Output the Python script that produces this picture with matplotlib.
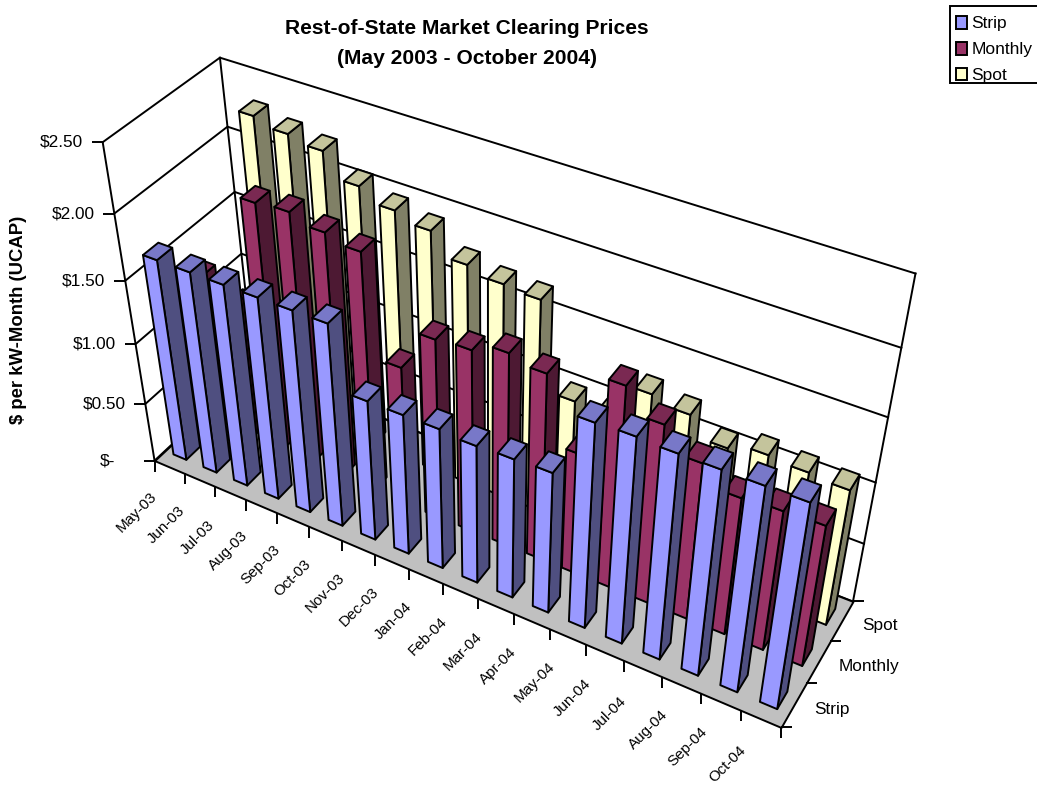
import matplotlib
matplotlib.use('Agg')
import matplotlib.pyplot as plt
from matplotlib.lines import Line2D
from matplotlib.patches import Patch, Rectangle
from matplotlib.transforms import IdentityTransform
from mpl_toolkits.mplot3d import proj3d
from mpl_toolkits.mplot3d.art3d import Poly3DCollection

plt.rcParams['font.family'] = ['Liberation Sans', 'DejaVu Sans']

months = ['May-03', 'Jun-03', 'Jul-03', 'Aug-03', 'Sep-03', 'Oct-03', 'Nov-03', 'Dec-03', 'Jan-04',
          'Feb-04', 'Mar-04', 'Apr-04', 'May-04', 'Jun-04', 'Jul-04', 'Aug-04', 'Sep-04', 'Oct-04']
series_names = ['Strip', 'Monthly', 'Spot']

strip = [1.65, 1.65, 1.65, 1.65, 1.65, 1.65, 1.16, 1.16, 1.16,
         1.14, 1.15, 1.16, 1.65, 1.66, 1.65, 1.65, 1.65, 1.65]
monthly = [1.28, 1.15, 2.02, 2.04, 1.98, 1.93, 1.15, 1.47, 1.49,
           1.57, 1.52, 1.00, 1.64, 1.46, 1.28, 1.13, 1.15, 1.16]
spot = [0.80, 2.35, 2.30, 2.26, 2.09, 2.00, 1.94, 1.78, 1.73,
        1.71, 1.03, 1.00, 1.30, 1.25, 1.10, 1.16, 1.14, 1.12]

z_ticks = [0, 0.5, 1.0, 1.5, 2.0, 2.5]
z_labels = ['$-', '$0.50', '$1.00', '$1.50', '$2.00', '$2.50']

# front, side and top colours of the bars
colors = {
    'Strip': ('#9999FF', '#4F4F80', '#7878C8'),
    'Monthly': ('#993366', '#4D1933', '#7A2952'),
    'Spot': ('#FFFFCC', '#808066', '#C4C49C'),
}

W, H = 1037, 785
SCALE, CX, CY = 3236.18, 488.68, 406.53
LW = 1.4
BAR_W = 0.43
BAR_D = 0.40

fig = plt.figure(figsize=(W / 100, H / 100), dpi=100)
ax = fig.add_subplot(projection='3d')
ax.set_axis_off()
ax.computed_zorder = False
ax.set_xlim(0, 18)
ax.set_ylim(0, 3)
ax.set_zlim(0, 2.5)
ax.view_init(elev=39.764, azim=-59.970)
ax.set_proj_type('persp', focal_length=0.5488)
ax.set_box_aspect((1.8080, 0.4526, 1.0), zoom=1.4349)

# square 3D axes, placed so one projected unit is SCALE pixels
vx0, vy0, vx1, vy1 = ax.viewLim.extents
side = SCALE * (vx1 - vx0)
ax.set_position([(CX + SCALE * vx0) / W, (CY + SCALE * vy0) / H, side / W, side / H])
ax.apply_aspect()


def to_px(x, y, z):
    u, v, _ = proj3d.proj_transform(x, y, z, ax.get_proj())
    return ax.transData.transform((u, v))


def add_poly(verts, faces, z):
    poly = Poly3DCollection(verts, facecolors=faces, edgecolors='black', linewidths=LW, zorder=z)
    ax.add_collection3d(poly)
    poly.set_clip_on(False)


def line3d(xs, ys, zs):
    ax.plot(xs, ys, zs, color='black', lw=LW, zorder=1, clip_on=False)


def bar(i, s, value, cols, z):
    x0, x1 = i + 0.5 - BAR_W / 2, i + 0.5 + BAR_W / 2
    y0, y1 = s + 0.5 - BAR_D / 2, s + 0.5 + BAR_D / 2
    front = [(x0, y0, 0), (x1, y0, 0), (x1, y0, value), (x0, y0, value)]
    side_face = [(x1, y0, 0), (x1, y1, 0), (x1, y1, value), (x1, y0, value)]
    top = [(x0, y0, value), (x1, y0, value), (x1, y1, value), (x0, y1, value)]
    add_poly([front, side_face, top], list(cols), z)


# walls and gridlines
for t in z_ticks:
    line3d([0, 0, 18], [0, 3, 3], [t, t, t])
line3d([0, 0], [0, 0], [0, 2.5])
line3d([0, 0], [3, 3], [0, 2.5])
line3d([18, 18], [3, 3], [0, 2.5])

# floor
add_poly([[(0, 0, 0), (18, 0, 0), (18, 3, 0), (0, 3, 0)]], ['#C0C0C0'], 2)

# bars, painted from the back row forwards
order = 3
for s, values in reversed(list(enumerate([strip, monthly, spot]))):
    cols = colors[series_names[s]]
    for i, v in enumerate(values):
        bar(i, s, v, cols, order)
        order += 1


def tick(x, y, z, dx, dy):
    px, py = to_px(x, y, z)
    fig.add_artist(Line2D([px, px + dx], [py, py + dy], color='black', lw=LW,
                          transform=IdentityTransform(), solid_capstyle='butt'))
    return px, py


def label(px, py, text, size=12.4, **kw):
    fig.text(px, py, text, transform=IdentityTransform(), fontsize=size, color='black', **kw)


for t, txt in zip(z_ticks, z_labels):
    px, py = tick(0, 0, t, -11, 0)
    label(px - (39 if t == 0 else 20), py, txt, ha='right', va='center')

for i in range(19):
    tick(i, 0, 0, 0, -11)
for i, m in enumerate(months):
    px, py = to_px(i + 0.5, 0, 0)
    label(px - 33, py - 45, m, size=10.9, ha='center', va='center', rotation=45, rotation_mode='anchor')

for s in range(4):
    tick(18, s, 0, 11, 0)
for s, name in enumerate(series_names):
    px, py = to_px(18, s + 0.5, 0)
    label(px + 20, py - 4, name, ha='left', va='center')

fig.text(467 / W, 1 - 29 / H, 'Rest-of-State Market Clearing Prices', ha='center', va='center',
         fontsize=15.1, fontweight='bold', color='black')
fig.text(467 / W, 1 - 59 / H, '(May 2003 - October 2004)', ha='center', va='center',
         fontsize=15.1, fontweight='bold', color='black')
fig.text(19 / W, 1 - 320 / H, '$ per kW-Month (UCAP)', rotation=90, ha='center', va='center',
         fontsize=13.3, fontweight='bold', color='black')

# legend box runs off the right edge of the figure
fig.add_artist(Rectangle((950, H - 83), 95, 77, facecolor='white', edgecolor='black', lw=LW,
                         transform=IdentityTransform()))
handles = [Patch(facecolor=colors[n][0], edgecolor='black', lw=LW, label=n) for n in series_names]
leg = fig.legend(handles=handles, loc='upper left', bbox_to_anchor=(956 / W, 1 - 16 / H), borderaxespad=0,
                 frameon=False, fontsize=12.5, handlelength=0.65, handleheight=0.75, handletextpad=0.25,
                 labelspacing=0.6, borderpad=0)
leg.set_zorder(5)

fig.savefig('out.png')
